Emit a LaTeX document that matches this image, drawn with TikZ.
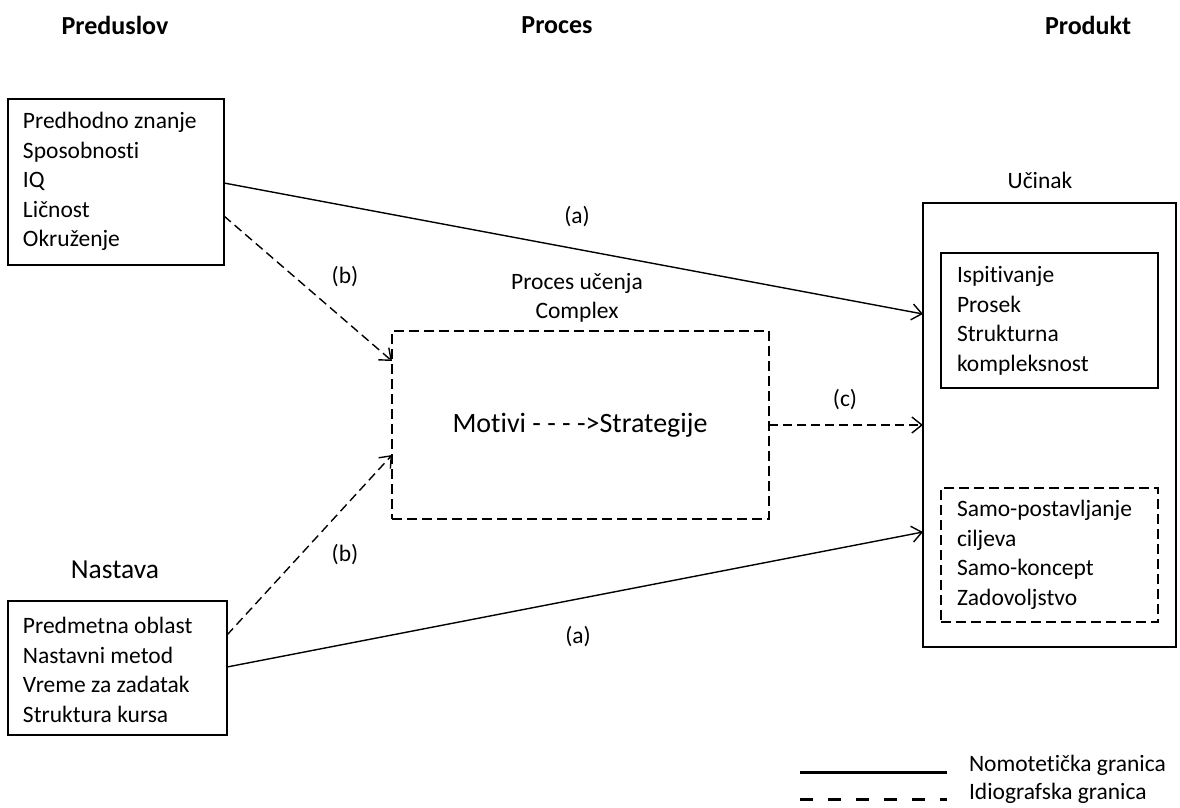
\documentclass[tikz,border=0pt]{standalone}
\usepackage{fontspec}
\setmainfont{Carlito}[Ligatures={NoCommon}]
\usetikzlibrary{arrows.meta}
\begin{document}
\begin{tikzpicture}[x=1pt,y=-1pt,
  every node/.style={inner sep=0pt, outer sep=0pt},
  txt/.style={font=\fontsize{23.5}{29.5}\selectfont},
  bigtxt/.style={font=\fontsize{27.5}{32}\selectfont},
  hdr/.style={font=\fontsize{26}{32}\selectfont\bfseries},
  box/.style={draw, line width=1.4pt, anchor=center},
  dashbox/.style={box, dash pattern=on 10pt off 5pt},
  boxtext/.style={txt, align=left, anchor=west},
  conn/.style={line width=1.4pt, -{Straight Barb[length=10pt,width=16pt,line width=1.4pt]}},
  dconn/.style={conn, dash pattern=on 9pt off 5pt},
  lbl/.style={txt, anchor=center},
]
\path[use as bounding box] (0,0) rectangle (1180,807);

% headers
\node[hdr] (h1) at (115,25) {Preduslov};
\node[hdr] (h2) at (557,25) {Proces};
\node[hdr] (h3) at (1088,25) {Produkt};

% left boxes
\node[box, minimum width=216pt, minimum height=166pt] (pre) at (116,182) {};
\node[boxtext] (pretxt) at (23,181.5)
  {Predhodno znanje\\Sposobnosti\\IQ\\Ličnost\\Okruženje};
\node[bigtxt] (nastlbl) at (115,570) {Nastava};
\node[box, minimum width=219pt, minimum height=134pt] (nast) at (117.5,668) {};
\node[boxtext] (nasttxt) at (23,670)
  {Predmetna oblast\\Nastavni metod\\Vreme za zadatak\\Struktura kursa};

% process
\node[lbl] (plbl1) at (577,283) {Proces učenja};
\node[lbl] (plbl2) at (577,312) {Complex};
\node[dashbox, minimum width=377pt, minimum height=188pt] (proc) at (580.5,425) {};
\node[font=\fontsize{28}{32}\selectfont] (proctxt) at (580,425) {Motivi - - - ->Strategije};

% product
\node[lbl] (uclbl) at (1040,180) {Učinak};
\node[box, minimum width=253pt, minimum height=444pt] (out) at (1049.5,425) {};
\node[box, minimum width=217pt, minimum height=135pt] (ins1) at (1049.5,320.5) {};
\node[boxtext] (ins1txt) at (957,321)
  {Ispitivanje\\Prosek\\Strukturna\\kompleksnost};
\node[dashbox, minimum width=217pt, minimum height=134pt] (ins2) at (1049.5,555) {};
\node[boxtext] (ins2txt) at (957,555)
  {Samo-postavljanje\\ciljeva\\Samo-koncept\\Zadovoljstvo};

% connectors
\draw[conn] ([yshift=-1pt]pre.east) -- ([yshift=111pt]out.west);
\draw[dconn] ([yshift=-34pt]pre.east) -- ([yshift=64pt]proc.west);
\draw[dconn] ([yshift=33pt]nast.east) -- ([yshift=-30pt]proc.west);
\draw[conn] ([yshift=1pt]nast.east) -- ([yshift=-107pt]out.west);
\draw[dconn] (proc.east) -- (out.west);

% connector labels
\node[lbl] (la1) at (577,217) {(a)};
\node[lbl] (lb1) at (345,277) {(b)};
\node[lbl] (lc) at (845,400) {(c)};
\node[lbl] (lb2) at (345,555) {(b)};
\node[lbl] (la2) at (578,637) {(a)};

% legend
\coordinate (l1a) at (800,772);
\coordinate (l1b) at (947,772);
\coordinate (l2a) at (800,799);
\coordinate (l2b) at (947,799);
\draw[line width=3pt] (l1a) -- (l1b);
\draw[line width=3pt, dash pattern=on 13pt off 15pt] (l2a) -- (l2b);
\node[txt, anchor=west] (leg1) at (969,765) {Nomotetička granica};
\node[txt, anchor=west] (leg2) at (969,793) {Idiografska granica};
\end{tikzpicture}
\end{document}
